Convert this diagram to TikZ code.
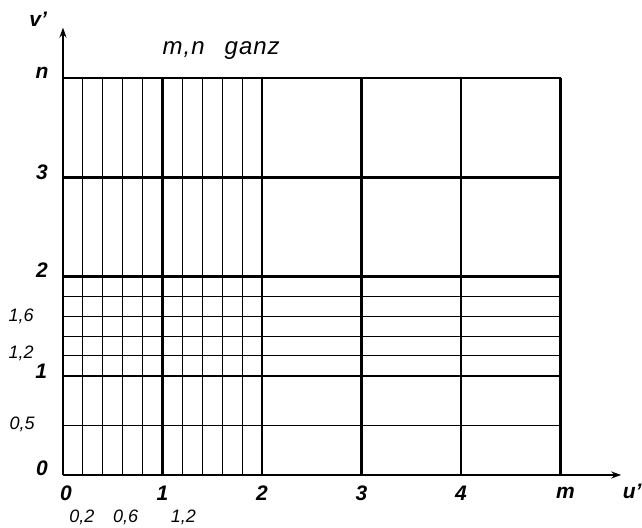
\documentclass[tikz,border=0pt]{standalone}
\usepackage{fontspec}
\setmainfont{Liberation Sans}
\usetikzlibrary{arrows.meta}
\begin{document}
\begin{tikzpicture}[x=99.5pt,y=99.2pt,
  thickln/.style={line width=2.3pt},
  thinln/.style={line width=1.1pt},
  axis/.style={line width=2.3pt,-{Stealth[length=10pt,width=7pt]}},
  biglab/.style={font=\fontsize{21}{24}\selectfont\itshape\bfseries,inner sep=0pt},
  smalllab/.style={font=\fontsize{18}{20}\selectfont\itshape,inner sep=0pt},
  titlelab/.style={font=\fontsize{24}{28}\selectfont\itshape,inner sep=0pt}]
\useasboundingbox (-0.633,-0.534) rectangle (5.819,4.788);
% thin verticals
\foreach \x in {0.2,0.4,0.6,0.8,1.2,1.4,1.6,1.8}
  \draw[thinln] (\x,0) -- (\x,4);
% thin horizontals
\foreach \y in {0.5,1.2,1.4,1.6,1.8}
  \draw[thinln] (0,\y) -- (5,\y);
% thick grid
\foreach \x in {1,2,3,4,5}
  \draw[thickln] (\x,0) -- (\x,4);
\foreach \y in {1,2,3,4}
  \draw[thickln] (0,\y) -- (5,\y);
% axes
\coordinate (O) at (0,0);
\coordinate (xe) at (5.61,0);
\coordinate (ye) at (0,4.51);
\draw[axis] (O) -- (xe);
\draw[axis] (O) -- (ye);
% labels
\node[biglab] (lv) at (-0.25,4.59) {v'};
\node[titlelab] (lt) at (1.59,4.28) {m\kern1pt,\kern1pt n\ \ \ g\kern1pt a\kern1pt n\kern1pt z};
\node[biglab] (ln) at (-0.21,4.05) {n};
\node[biglab] (l3) at (-0.21,3.05) {3};
\node[biglab] (l2) at (-0.21,2.06) {2};
\node[smalllab] (l16) at (-0.42,1.60) {1,6};
\node[smalllab] (l12) at (-0.42,1.23) {1,2};
\node[biglab] (l1) at (-0.22,1.05) {1};
\node[smalllab] (l05) at (-0.41,0.51) {0,5};
\node[biglab] (l0) at (-0.21,0.07) {0};
\node[biglab] (x0) at (0.03,-0.18) {0};
\node[biglab] (x1) at (1.0,-0.18) {1};
\node[biglab] (x2) at (2.0,-0.18) {2};
\node[biglab] (x3) at (3.0,-0.18) {3};
\node[biglab] (x4) at (4.0,-0.18) {4};
\node[biglab] (xm) at (5.05,-0.18) {m};
\node[biglab] (xu) at (5.72,-0.17) {u'};
\node[smalllab] (x02) at (0.19,-0.43) {0,2};
\node[smalllab] (x06) at (0.63,-0.43) {0,6};
\node[smalllab] (x12) at (1.21,-0.43) {1,2};
\end{tikzpicture}
\end{document}
